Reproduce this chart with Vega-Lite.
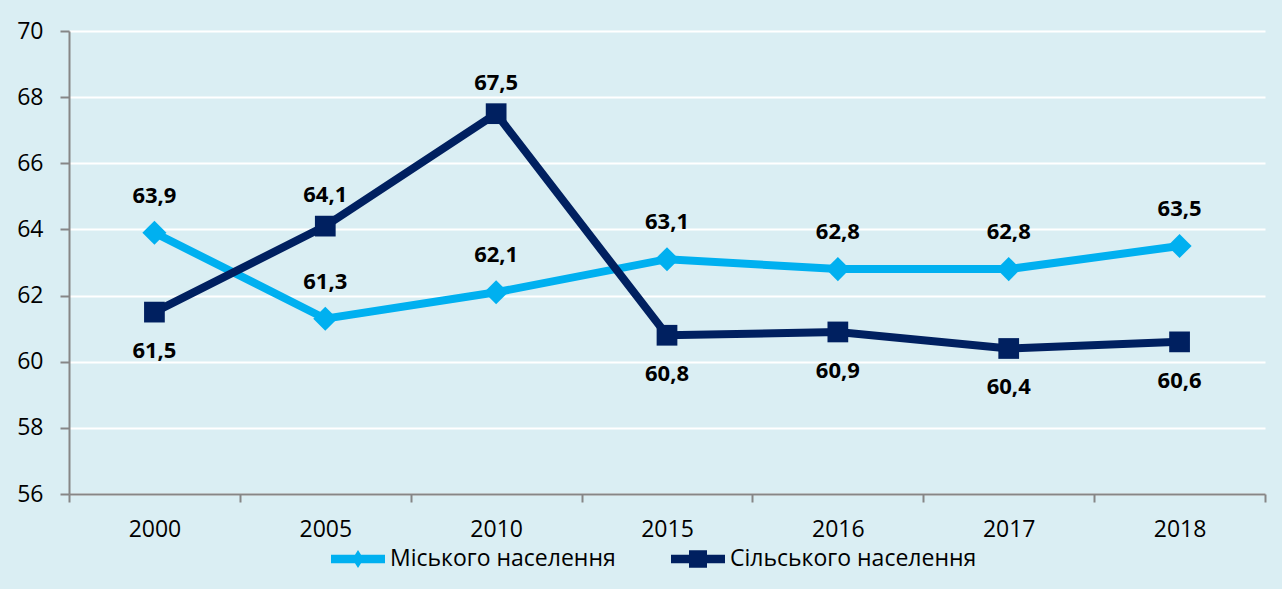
{
  "$schema": "https://vega.github.io/schema/vega-lite/v6.json",
  "autosize": {"type": "none"},
  "width": 1196,
  "height": 463,
  "padding": {"left": 69, "top": 31, "right": 17, "bottom": 95},
  "background": "#DAEEF3",
  "config": {
    "view": {"stroke": null},
    "font": "Open Sans",
    "locale": {"number": {"decimal": ",", "thousands": " ", "grouping": [3], "currency": ["", ""]}}
  },
  "data": {
    "values": [
      {"year": "2000", "series": "Міського населення", "value": 63.9},
      {"year": "2005", "series": "Міського населення", "value": 61.3},
      {"year": "2010", "series": "Міського населення", "value": 62.1},
      {"year": "2015", "series": "Міського населення", "value": 63.1},
      {"year": "2016", "series": "Міського населення", "value": 62.8},
      {"year": "2017", "series": "Міського населення", "value": 62.8},
      {"year": "2018", "series": "Міського населення", "value": 63.5},
      {"year": "2000", "series": "Сільського населення", "value": 61.5},
      {"year": "2005", "series": "Сільського населення", "value": 64.1},
      {"year": "2010", "series": "Сільського населення", "value": 67.5},
      {"year": "2015", "series": "Сільського населення", "value": 60.8},
      {"year": "2016", "series": "Сільського населення", "value": 60.9},
      {"year": "2017", "series": "Сільського населення", "value": 60.4},
      {"year": "2018", "series": "Сільського населення", "value": 60.6}
    ]
  },
  "encoding": {
    "x": {
      "field": "year", "type": "ordinal", "bandPosition": 0.5,
      "scale": {"type": "band", "paddingInner": 0, "paddingOuter": 0},
      "axis": {
        "title": null, "labelAngle": 0, "tickBand": "extent", "grid": false,
        "domainColor": "#868686", "domainWidth": 2, "tickColor": "#868686", "tickWidth": 2, "tickSize": 8,
        "labelFont": "Open Sans", "labelFontSize": 23, "labelColor": "#000000", "labelPadding": 16
      }
    },
    "y": {
      "field": "value", "type": "quantitative",
      "scale": {"domain": [56, 70], "nice": false, "zero": false},
      "axis": {
        "title": null, "values": [56, 58, 60, 62, 64, 66, 68, 70], "grid": true,
        "gridColor": "#FFFFFF", "gridWidth": 2,
        "domainColor": "#868686", "domainWidth": 2, "tickColor": "#868686", "tickWidth": 2, "tickSize": 9,
        "labelFont": "Open Sans", "labelFontSize": 23, "labelColor": "#000000", "labelPadding": 17
      }
    }
  },
  "layer": [
    {
      "mark": {"type": "line", "strokeWidth": 8},
      "encoding": {
        "color": {
          "field": "series", "type": "nominal",
          "scale": {"domain": ["Міського населення", "Сільського населення"], "range": ["#00B0F0", "#002060"]},
          "legend": {
            "title": null, "orient": "none", "legendX": 259, "legendY": 498, "direction": "horizontal",
            "labelFont": "Open Sans", "labelFontSize": 23, "labelColor": "#000000", "labelOffset": 2,
            "columnPadding": 52, "symbolSize": 3600, "padding": 0, "labelLimit": 0,
            "encode": {
              "symbols": {
                "update": {
                  "shape": {"signal": "datum.value === 'Міського населення' ? 'M-0.9,-0.14 L0.9,-0.14 L0.9,0.14 L-0.9,0.14 Z M0,-0.3 L0.19,0 L0,0.3 L-0.19,0 Z' : 'M-0.9,-0.14 L0.9,-0.14 L0.9,0.14 L-0.9,0.14 Z M-0.3,-0.29 L0.3,-0.29 L0.3,0.29 L-0.3,0.29 Z'"},
                  "fill": {"scale": "color", "field": "value"},
                  "fillOpacity": {"value": 1},
                  "stroke": {"value": "transparent"},
                  "strokeWidth": {"value": 0},
                  "opacity": {"value": 1}
                }
              }
            }
          }
        }
      }
    },
    {
      "transform": [{"filter": "datum.series === 'Міського населення'"}],
      "mark": {"type": "point", "shape": "diamond", "size": 580, "filled": true, "opacity": 1, "strokeWidth": 0},
      "encoding": {
        "color": {"field": "series", "type": "nominal"}
      }
    },
    {
      "transform": [{"filter": "datum.series === 'Сільського населення'"}],
      "mark": {"type": "point", "shape": "square", "size": 430, "filled": true, "opacity": 1, "strokeWidth": 0},
      "encoding": {
        "color": {"field": "series", "type": "nominal"}
      }
    },
    {
      "transform": [{"filter": "datum.series === 'Міського населення'"}],
      "mark": {"type": "text", "dy": -37, "fontSize": 22, "fontWeight": "bold", "font": "Open Sans", "baseline": "middle", "color": "#000000"},
      "encoding": {"text": {"field": "value", "type": "quantitative", "format": ".1f"}}
    },
    {
      "transform": [{"filter": "datum.series === 'Сільського населення' && (datum.year === '2005' || datum.year === '2010')"}],
      "mark": {"type": "text", "dy": -31, "fontSize": 22, "fontWeight": "bold", "font": "Open Sans", "baseline": "middle", "color": "#000000"},
      "encoding": {"text": {"field": "value", "type": "quantitative", "format": ".1f"}}
    },
    {
      "transform": [{"filter": "datum.series === 'Сільського населення' && datum.year !== '2005' && datum.year !== '2010'"}],
      "mark": {"type": "text", "dy": 39, "fontSize": 22, "fontWeight": "bold", "font": "Open Sans", "baseline": "middle", "color": "#000000"},
      "encoding": {"text": {"field": "value", "type": "quantitative", "format": ".1f"}}
    }
  ]
}
